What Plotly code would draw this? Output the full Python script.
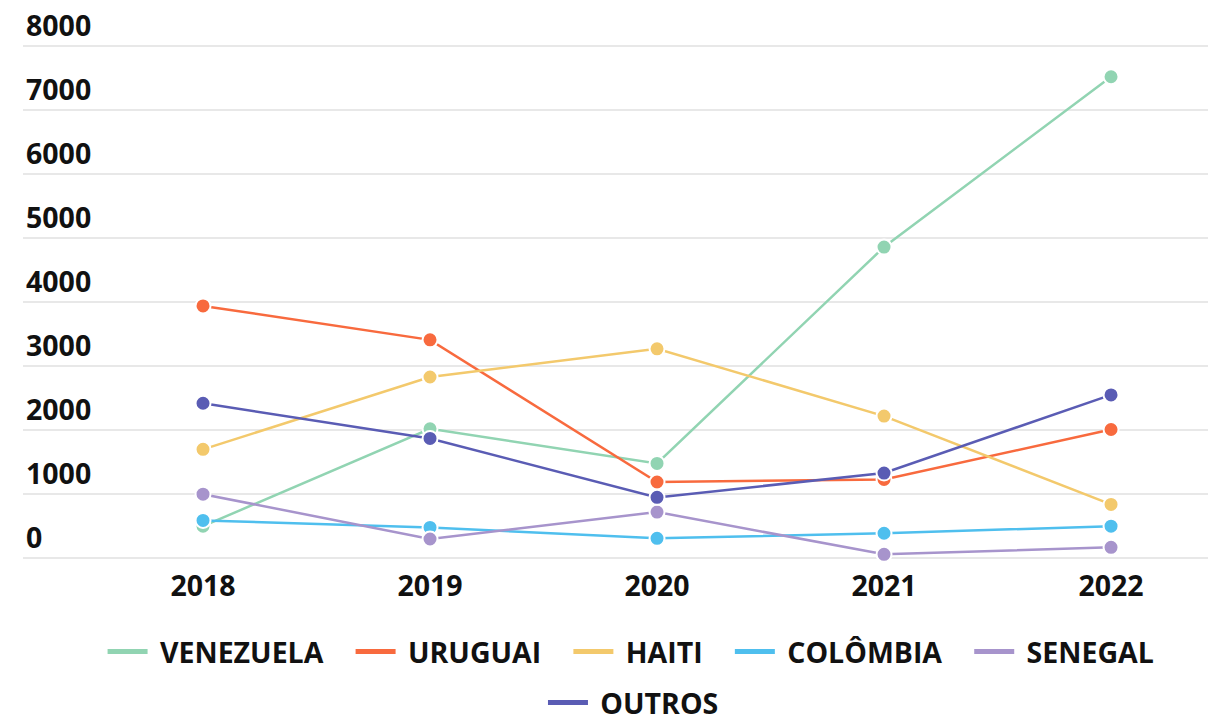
import plotly.graph_objects as go

years = [2018, 2019, 2020, 2021, 2022]
series_names = ["VENEZUELA", "URUGUAI", "HAITI", "COLÔMBIA", "SENEGAL", "OUTROS"]
venezuela = [500, 2020, 1480, 4860, 7520]
uruguai = [3940, 3410, 1190, 1230, 2010]
haiti = [1700, 2830, 3270, 2220, 840]
colombia = [590, 480, 310, 390, 500]
senegal = [1000, 300, 720, 60, 170]
outros = [2420, 1870, 950, 1330, 2550]
y_ticks = [0, 1000, 2000, 3000, 4000, 5000, 6000, 7000, 8000]

colors = ["#91d4b2", "#f86a3e", "#f3c96c", "#4fbfee", "#a794cc", "#5a5cb4"]
values = [venezuela, uruguai, haiti, colombia, senegal, outros]

FONT = dict(family="Open Sans", size=28.5, color="#111111", weight=700)

fig = go.Figure()
for name, vals, col in zip(series_names, values, colors):
    fig.add_trace(go.Scatter(
        x=years, y=vals, mode="lines+markers", name=name,
        line=dict(color=col, width=2.5),
        marker=dict(color=col, size=15, line=dict(color="white", width=2)),
        showlegend=False, hoverinfo="x+y+name",
    ))
for i, (name, col) in enumerate(zip(series_names, colors)):
    label = "\u00a0" + name + ("\u00a0\u00a0\u00a0" if i < 4 else "")
    fig.add_trace(go.Scatter(
        x=[None], y=[None], mode="lines", name=label,
        line=dict(color=col, width=5),
        legend="legend" if i < 5 else "legend2",
    ))

fig.update_layout(
    width=1216, height=714,
    margin=dict(l=15, r=4, t=22, b=151, autoexpand=False),
    paper_bgcolor="white", plot_bgcolor="white",
    font=FONT,
    legend=dict(orientation="h", x=0.508, xanchor="center", y=1 - 644 / 714, yanchor="middle",
                yref="container", xref="paper",
                font=FONT, itemwidth=40, traceorder="normal",
                itemclick=False, itemdoubleclick=False),
    legend2=dict(orientation="h", x=0.51, xanchor="center", y=1 - 695 / 714, yanchor="middle",
                 yref="container", xref="paper",
                 font=FONT, itemwidth=40,
                 itemclick=False, itemdoubleclick=False),
    xaxis=dict(range=[2017.207, 2022.480], tickvals=years, ticktext=[str(y) for y in years],
               showgrid=False, zeroline=False, showline=False, ticks="",
               ticklabelstandoff=-5,
               tickfont=FONT, fixedrange=True),
    yaxis=dict(range=[-200, 8250], tickvals=y_ticks, ticklabelposition="inside top",
               ticklabeloverflow="allow",
               showgrid=True, gridcolor="#e8e8e8", gridwidth=1.5,
               zeroline=False, showline=False, ticks="",
               tickfont=FONT, fixedrange=True),
)

fig.write_html("out.html")
